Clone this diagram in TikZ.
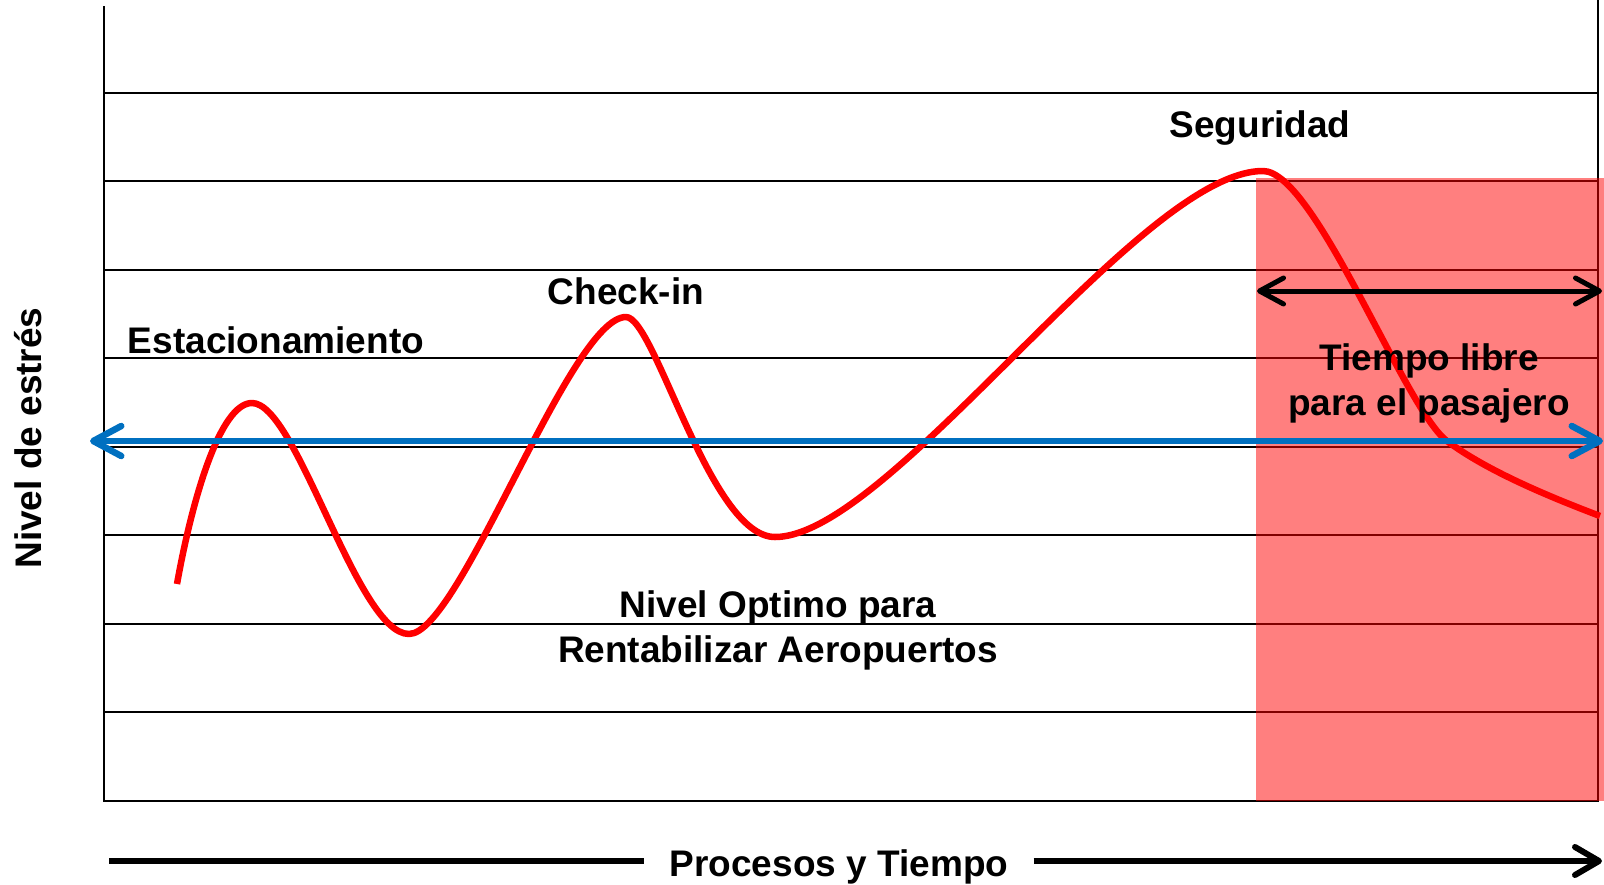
\documentclass[tikz,border=0pt]{standalone}
\usepackage{fontspec}
\setmainfont{Liberation Sans}
\usetikzlibrary{arrows.meta}
\definecolor{myblue}{RGB}{0,112,192}
\begin{document}
\begin{tikzpicture}[x=1pt,y=-1pt,
  gridline/.style={line width=2pt, black},
  lbl/.style={font=\fontsize{37}{45}\selectfont\bfseries, inner sep=0pt, align=center, text=black},
  bluearrow/.style={line width=6.5pt, myblue, {Straight Barb[round,length=28pt,width=30pt]}-{Straight Barb[round,length=28pt,width=30pt]}},
  blackdouble/.style={line width=5pt, black, {Straight Barb[round,length=24pt,width=26pt]}-{Straight Barb[round,length=24pt,width=26pt]}},
  timearrow/.style={line width=6pt, black},
  stresscurve/.style={line width=6.5pt, red, line join=round}
]
\useasboundingbox (0,0) rectangle (1604,884);
% grid
\foreach \yy in {92.7,181.2,269.7,358.2,446.7,535.2,623.7,712.2,800.7}
  \draw[gridline] (103.5,\yy) -- (1598,\yy);
\draw[gridline] (103.5,6) -- (103.5,801.7);
\draw[gridline] (1598,0) -- (1598,801.7);
% shaded free-time region
\fill[red, fill opacity=0.5] (1256,178) rectangle (1604,801);
% stress curve
\draw[stresscurve] (177,584) .. controls (192,500) and (220,403) .. (252,403)
  .. controls (297,403) and (357,634) .. (409,634)
  .. controls (460,634) and (570,317) .. (626,317)
  .. controls (655,317) and (710,537) .. (775,537)
  .. controls (890,537) and (1140,171) .. (1263,171)
  .. controls (1315,171) and (1405,410) .. (1447,441)
  .. controls (1487,471) and (1550,497) .. (1600,516);
% optimal level arrow
\coordinate (optL) at (90,441);
\coordinate (optR) at (1603,441);
\draw[bluearrow] (optL) -- (optR);
% free time arrow
\coordinate (ftL) at (1257,291);
\coordinate (ftR) at (1602,291);
\draw[blackdouble] (ftL) -- (ftR);
% labels
\node[lbl] (seg) at (1260,128) {Seguridad};
\node[lbl] (chk) at (626,291) {Check-in};
\node[lbl] (est) at (276,340) {Estacionamiento};
\node[lbl] (tl) at (1429,383) {Tiempo libre\\para el pasajero};
\node[lbl] (opt) at (778,630) {Nivel Optimo para\\Rentabilizar Aeropuertos};
\node[lbl, rotate=90] (nivel) at (28,438) {Nivel de estrés};
% time axis
\node[lbl, inner xsep=25pt] (proc) at (839,867) {Procesos y Tiempo};
\coordinate (tS) at (109,861);
\coordinate (tE) at (1602,861);
\draw[timearrow] (tS) -- (tS -| proc.west);
\draw[timearrow, -{Straight Barb[round,length=24pt,width=28pt]}] (tE -| proc.east) -- (tE);
\end{tikzpicture}
\end{document}
